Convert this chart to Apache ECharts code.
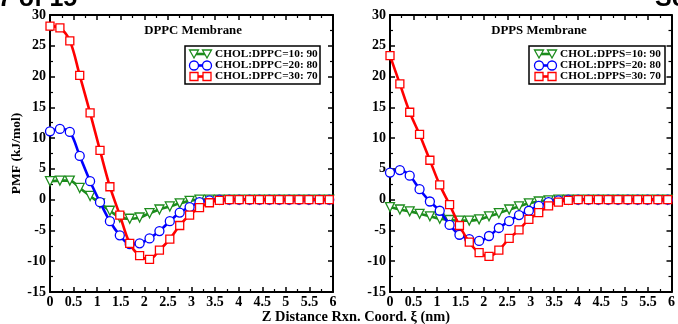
<!DOCTYPE html>
<html><head><meta charset="utf-8">
<script src="https://cdn.jsdelivr.net/npm/echarts@6/dist/echarts.min.js"></script>
<style>html,body{margin:0;padding:0;background:#fff}#c{width:678px;height:324px}</style>
</head><body><div id="c"></div>
<script>
// Reaction coordinate (nm) of the plotted points
const xs = [0, 0.21, 0.42, 0.63, 0.85, 1.06, 1.27, 1.48, 1.69, 1.90, 2.11, 2.32, 2.54, 2.75, 2.96, 3.17, 3.38, 3.59, 3.80, 4.01, 4.23, 4.44, 4.65, 4.86, 5.07, 5.28, 5.49, 5.71, 5.92];
// DPPC membrane PMF (kJ/mol)
const dppc10 = [3.0, 3.1, 3.1, 1.9, 0.6, -0.6, -1.8, -2.9, -3.1, -2.9, -2.2, -1.6, -1.1, -0.6, -0.2, 0, 0, 0, 0, 0, 0, 0, 0, 0, 0, 0, 0, 0, 0];
const dppc20 = [11.1, 11.5, 11.0, 7.1, 3.0, -0.4, -3.5, -5.8, -7.2, -7.1, -6.3, -5.1, -3.5, -2.1, -1.2, -0.4, -0.1, 0, 0, 0, 0, 0, 0, 0, 0, 0, 0, 0, 0];
const dppc30 = [28.2, 27.9, 25.8, 20.2, 14.1, 8.0, 2.1, -2.5, -7.1, -9.1, -9.7, -8.2, -6.4, -4.2, -2.5, -1.3, -0.5, -0.1, 0, 0, 0, 0, 0, 0, 0, 0, 0, 0, 0];
// DPPS membrane PMF (kJ/mol)
const dpps10 = [-1.2, -1.6, -1.9, -2.3, -2.7, -3.1, -3.3, -3.4, -3.4, -3.2, -2.7, -2.2, -1.6, -1.1, -0.6, -0.3, -0.1, 0, 0, 0, 0, 0, 0, 0, 0, 0, 0, 0, 0];
const dpps20 = [4.4, 4.8, 3.9, 1.7, -0.3, -1.8, -4.1, -5.7, -6.4, -6.7, -5.9, -4.6, -3.5, -2.5, -1.8, -1.0, -0.4, -0.1, 0, 0, 0, 0, 0, 0, 0, 0, 0, 0, 0];
const dpps30 = [23.4, 18.8, 14.2, 10.6, 6.4, 2.4, -0.8, -4.2, -6.9, -8.6, -9.2, -8.2, -6.3, -4.9, -3.2, -2.1, -1.0, -0.4, -0.1, 0, 0, 0, 0, 0, 0, 0, 0, 0, 0];

const panelTitles = ['DPPC Membrane', 'DPPS Membrane'];
const legendNames = [
  ['CHOL:DPPC=10: 90', 'CHOL:DPPC=20: 80', 'CHOL:DPPC=30: 70'],
  ['CHOL:DPPS=10: 90', 'CHOL:DPPS=20: 80', 'CHOL:DPPS=30: 70']
];
const xAxisTitle = 'Z Distance Rxn. Coord. \u03BE (nm)';
const yAxisTitle = 'PMF (kJ/mol)';

const FONT = '"Liberation Serif", "Times New Roman", serif';
const GREEN = '#1c8c1c', BLUE = '#0000ff', RED = '#ff0000';
const styles = [
  {color: GREEN, symbol: 'triangle', rotate: 180, size: 9},
  {color: BLUE, symbol: 'circle', rotate: 0, size: 9},
  {color: RED, symbol: 'rect', rotate: 0, size: 8}
];
const panelData = [[dppc10, dppc20, dppc30], [dpps10, dpps20, dpps30]];

const grids = [
  {left: 50, top: 15, width: 283, height: 277},
  {left: 390, top: 15, width: 283, height: 277}
];

const xAxes = [], yAxes = [], series = [];
grids.forEach((g, i) => {
  const base = {
    gridIndex: i, type: 'value', min: 0, max: 6, interval: 0.5,
    axisLine: {show: true, onZero: false, lineStyle: {color: '#000', width: 2}},
    axisTick: {show: true, inside: true, length: 5, lineStyle: {color: '#000', width: 1.5}},
    minorTick: {show: true, splitNumber: 2, length: 3, lineStyle: {color: '#000', width: 1.2}},
    splitLine: {show: false}
  };
  xAxes.push(Object.assign({}, base, {position: 'bottom',
    axisLabel: {show: true, margin: 3, color: '#000', fontFamily: FONT, fontWeight: 'bold', fontSize: 14}}));
  xAxes.push(Object.assign({}, base, {position: 'top', axisLabel: {show: false}}));
  const ybase = Object.assign({}, base, {min: -15, max: 30, interval: 5});
  yAxes.push(Object.assign({}, ybase, {position: 'left',
    axisLabel: {show: true, margin: 4, color: '#000', fontFamily: FONT, fontWeight: 'bold', fontSize: 14},
    name: i === 0 ? yAxisTitle : '', nameLocation: 'middle', nameGap: 26,
    nameTextStyle: {color: '#000', fontFamily: FONT, fontWeight: 'bold', fontSize: 13.5}}));
  yAxes.push(Object.assign({}, ybase, {position: 'right', axisLabel: {show: false}}));

  panelData[i].forEach((arr, k) => {
    const st = styles[k];
    series.push({
      type: 'line', name: legendNames[i][k],
      xAxisIndex: i * 2, yAxisIndex: i * 2,
      data: xs.map((x, j) => [x, arr[j]]),
      smooth: 0.35,
      symbol: st.symbol, symbolSize: st.size, symbolRotate: st.rotate,
      showAllSymbol: true,
      itemStyle: {color: '#fff', borderColor: st.color, borderWidth: 1.3},
      lineStyle: {color: st.color, width: 2.6},
      z: 2 + k
    });
  });
});

// Legends drawn as boxed graphic entries (markers at both ends of a short line)
const graphic = [];
const legendBoxes = [
  {x: 185, y: 46, w: 135, h: 38, sx: 194, tx: 215},
  {x: 529, y: 46, w: 136, h: 38, sx: 539, tx: 560}
];
legendBoxes.forEach((b, i) => {
  graphic.push({type: 'rect', shape: {x: b.x, y: b.y, width: b.w, height: b.h},
    style: {fill: '#fff', stroke: '#000', lineWidth: 1.5}, z: 10});
  [54, 65.5, 76.5].forEach((ry, k) => {
    const c = styles[k].color;
    graphic.push({type: 'line', shape: {x1: b.sx, y1: ry, x2: b.sx + 13, y2: ry},
      style: {stroke: c, lineWidth: 2.6}, z: 11});
    [b.sx, b.sx + 13].forEach(cx => {
      if (k === 0) {
        graphic.push({type: 'polygon', shape: {points: [[cx - 4.5, ry - 4], [cx + 4.5, ry - 4], [cx, ry + 4]]},
          style: {fill: '#fff', stroke: c, lineWidth: 1.3}, z: 12});
      } else if (k === 1) {
        graphic.push({type: 'circle', shape: {cx: cx, cy: ry, r: 4.5},
          style: {fill: '#fff', stroke: c, lineWidth: 1.3}, z: 12});
      } else {
        graphic.push({type: 'rect', shape: {x: cx - 4, y: ry - 4, width: 8, height: 8},
          style: {fill: '#fff', stroke: c, lineWidth: 1.3}, z: 12});
      }
    });
    graphic.push({type: 'text', x: b.tx, y: ry, z: 12,
      style: {text: legendNames[i][k], fill: '#000', font: 'bold 11.3px ' + FONT, textVerticalAlign: 'middle'}});
  });
});
// Panel titles
[[193, 31], [539, 31]].forEach((p, i) => {
  graphic.push({type: 'text', x: p[0], y: p[1], z: 12,
    style: {text: panelTitles[i], fill: '#000', font: 'bold 12.8px ' + FONT, textAlign: 'center', textVerticalAlign: 'middle'}});
});
// Shared x-axis title
graphic.push({type: 'text', x: 356, y: 317, z: 12,
  style: {text: xAxisTitle, fill: '#000', font: 'bold 14.4px ' + FONT, textAlign: 'center', textVerticalAlign: 'middle'}});
// Page header fragments cut off at the top
graphic.push({type: 'text', x: -2, y: 12, z: 12,
  style: {text: '7 of 15', fill: '#000', font: 'bold 25px "Liberation Sans", Arial, sans-serif', textVerticalAlign: 'bottom'}});
graphic.push({type: 'text', x: 655, y: 12, z: 12,
  style: {text: 'Sc', fill: '#000', font: 'bold 25px "Liberation Sans", Arial, sans-serif', textVerticalAlign: 'bottom'}});

const chart = echarts.init(document.getElementById('c'), null, {renderer: 'canvas'});
chart.setOption({
  animation: false,
  backgroundColor: '#fff',
  grid: grids,
  xAxis: xAxes,
  yAxis: yAxes,
  series: series,
  graphic: graphic
});
</script>
</body></html>
